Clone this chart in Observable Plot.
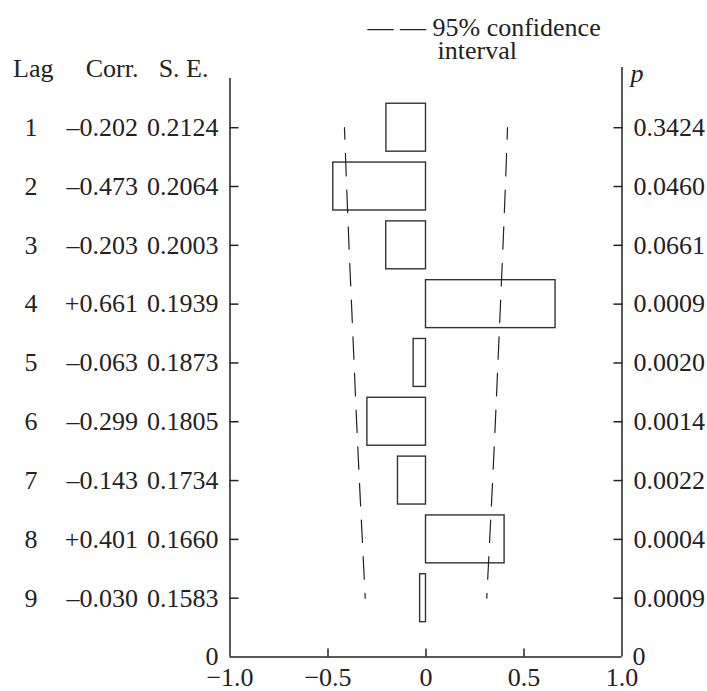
<!DOCTYPE html>
<html><head><meta charset="utf-8">
<script src="https://cdn.jsdelivr.net/npm/d3@7"></script>
<script src="https://cdn.jsdelivr.net/npm/@observablehq/plot@0.6"></script>
<style>body{margin:0;background:#fff} svg{display:block}</style>
</head><body><div id="chart"></div>
<script>
const lags = [1, 2, 3, 4, 5, 6, 7, 8, 9];
const corr = [-0.202, -0.473, -0.203, 0.661, -0.063, -0.299, -0.143, 0.401, -0.030];
const corrLabels = ["–0.202", "–0.473", "–0.203", "+0.661", "–0.063", "–0.299", "–0.143", "+0.401", "–0.030"];
const seLabels = ["0.2124", "0.2064", "0.2003", "0.1939", "0.1873", "0.1805", "0.1734", "0.1660", "0.1583"];
const pLabels = ["0.3424", "0.0460", "0.0661", "0.0009", "0.0020", "0.0014", "0.0022", "0.0004", "0.0009"];
const ciUpper = [0.416, 0.405, 0.393, 0.380, 0.367, 0.354, 0.340, 0.325, 0.310];
const ciLower = [-0.416, -0.405, -0.393, -0.380, -0.367, -0.354, -0.340, -0.325, -0.310];
const xTicks = [-1, -0.5, 0, 0.5, 1];
const xTickLabels = ["−1.0", "−0.5", "0", "0.5", "1.0"];
const innerTicks = [-0.5, 0, 0.5];
const headers = ["Lag", "Corr.", "S. E."];
const legendLines = ["— — 95% confidence", "interval"];
const cornerLabel = "0";

const rows = lags.map((lag, i) => ({
  lag, corr: corr[i], corrLabel: corrLabels[i], se: seLabels[i], p: pLabels[i],
  lo: ciLower[i], hi: ciUpper[i]
}));

const ink = "#222";
const half = 0.4075;

const chart = Plot.plot({
  width: 707,
  height: 691,
  marginLeft: 229.5,
  marginRight: 85.5,
  marginTop: 68.4,
  marginBottom: 34.5,
  style: {fontFamily: "'Liberation Serif', 'Times New Roman', serif", fontSize: "26px", color: ink, background: "#fff"},
  x: {domain: [-1, 1], label: null},
  y: {domain: [0, 10], reverse: true, label: null},
  marks: [
    // frame lines
    Plot.ruleX([-1], {y1: 0.163, y2: 10, stroke: ink, strokeWidth: 1.5}),
    Plot.ruleX([1], {y1: -0.024, y2: 10, stroke: ink, strokeWidth: 1.5}),
    Plot.ruleY([10], {x1: -1, x2: 1, stroke: ink, strokeWidth: 1.5}),
    // ticks
    Plot.axisY({anchor: "left", ticks: lags, tickSize: -9, tickFormat: () => "", stroke: ink, strokeWidth: 1.5}),
    Plot.axisY({anchor: "right", ticks: lags, tickSize: -9, tickFormat: () => "", stroke: ink, strokeWidth: 1.5}),
    Plot.axisX({anchor: "bottom", ticks: innerTicks, tickSize: -8, tickFormat: () => "", stroke: ink, strokeWidth: 1.5}),
    Plot.axisX({anchor: "bottom", ticks: xTicks, tickSize: 0, tickPadding: 11,
      tickFormat: d => xTickLabels[xTicks.indexOf(d)], fill: ink, fontSize: 26}),
    // bars
    Plot.rectX(rows, {x1: 0, x2: "corr", y1: d => d.lag - half, y2: d => d.lag + half,
      fill: "white", stroke: "#333", strokeWidth: 1.4}),
    // confidence lines
    Plot.line(rows, {x: "lo", y: "lag", stroke: ink, strokeWidth: 1.2, strokeDasharray: "22.5,14.2", strokeDashoffset: 11}),
    Plot.line(rows, {x: "hi", y: "lag", stroke: ink, strokeWidth: 1.2, strokeDasharray: "22.5,14.2", strokeDashoffset: 11}),
    // table
    Plot.text(rows, {x: -1, y: "lag", text: d => String(d.lag), dx: -192.5, textAnchor: "end", fill: ink, fontSize: 26}),
    Plot.text(rows, {x: -1, y: "lag", text: "corrLabel", dx: -92, textAnchor: "end", fill: ink, fontSize: 26}),
    Plot.text(rows, {x: -1, y: "lag", text: "se", dx: -11.5, textAnchor: "end", fill: ink, fontSize: 26}),
    Plot.text(rows, {x: 1, y: "lag", text: "p", dx: 11.5, textAnchor: "start", fill: ink, fontSize: 26}),
    // headers
    Plot.text([headers[0]], {x: -1, y: 0, text: d => d, dx: -176.5, textAnchor: "end", fill: ink, fontSize: 26}),
    Plot.text([headers[1]], {x: -1, y: 0, text: d => d, dx: -91.5, textAnchor: "end", fill: ink, fontSize: 26}),
    Plot.text([headers[2]], {x: -1, y: 0, text: d => d, dx: -21.5, textAnchor: "end", fill: ink, fontSize: 26}),
    Plot.text(["p"], {x: 1, y: 0, text: d => d, dx: 8.5, dy: 5, textAnchor: "start", fontStyle: "italic", fill: ink, fontSize: 26}),
    // corner zeros
    Plot.text([cornerLabel], {x: -1, y: 10, text: d => d, dx: -11.5, textAnchor: "end", fill: ink, fontSize: 26}),
    Plot.text([cornerLabel], {x: 1, y: 10, text: d => d, dx: 10.5, textAnchor: "start", fill: ink, fontSize: 26}),
    // legend
    Plot.text([legendLines[0]], {frameAnchor: "top-left", text: d => d, dx: 137.5, dy: -51.5, textAnchor: "start", fill: ink, fontSize: 26}),
    Plot.text([legendLines[1]], {frameAnchor: "top-left", text: d => d, dx: 207.5, dy: -28.5, textAnchor: "start", fill: ink, fontSize: 26})
  ]
});
document.getElementById("chart").appendChild(chart);
</script>
</body></html>
